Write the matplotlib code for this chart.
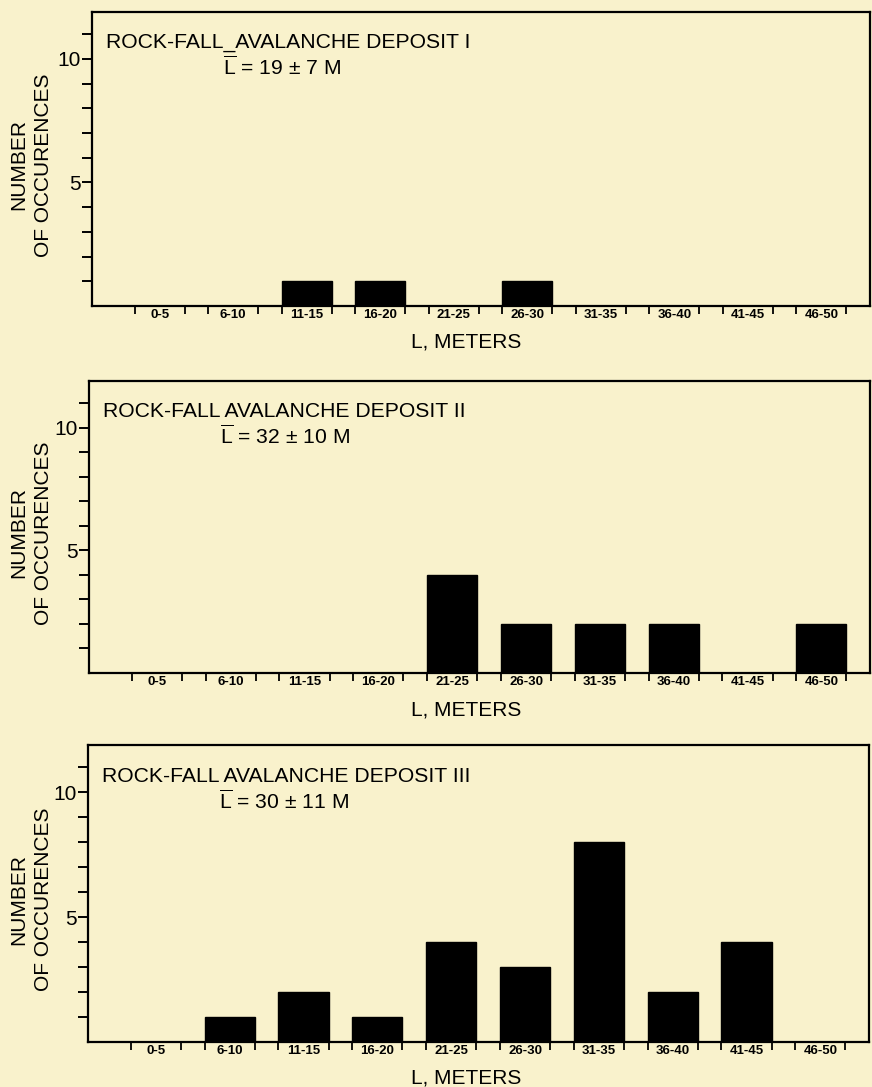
import matplotlib
matplotlib.use("Agg")
import matplotlib.pyplot as plt
import numpy as np

plt.rcParams['font.family'] = ['Liberation Sans', 'DejaVu Sans']
plt.rcParams['mathtext.fontset'] = 'custom'
plt.rcParams['mathtext.rm'] = 'Liberation Sans'

bins = ["0-5", "6-10", "11-15", "16-20", "21-25", "26-30", "31-35", "36-40", "41-45", "46-50"]
counts_I = [0, 0, 1, 1, 0, 1, 0, 0, 0, 0]
counts_II = [0, 0, 0, 0, 4, 2, 2, 2, 0, 2]
counts_III = [0, 1, 2, 1, 4, 3, 8, 2, 4, 0]
titles = ["ROCK-FALL_AVALANCHE DEPOSIT I", "ROCK-FALL AVALANCHE DEPOSIT II", "ROCK-FALL AVALANCHE DEPOSIT III"]
means = [r"$\overline{\mathrm{L}}$ = 19 $\pm$ 7 M", r"$\overline{\mathrm{L}}$ = 32 $\pm$ 10 M", r"$\overline{\mathrm{L}}$ = 30 $\pm$ 11 M"]
all_counts = [counts_I, counts_II, counts_III]

bg = "#F9F2CC"
fig = plt.figure(figsize=(8.72, 10.87), dpi=100, facecolor=bg)

W, H = 872.0, 1087.0
boxes = [(92, 12, 870, 306), (89, 381, 870, 673), (88, 745, 869, 1042)]
bar_w = 0.68

for k, (x0, y0, x1, y1) in enumerate(boxes):
    w, h = x1 - x0, y1 - y0
    ax = fig.add_axes([x0 / W, 1 - y1 / H, w / W, h / H])
    ax.set_facecolor(bg)
    x = np.arange(len(bins))
    ax.bar(x, all_counts[k], width=bar_w, color="black", edgecolor="black")
    ax.set_xlim(-0.92, 9.66)
    ax.set_ylim(0, 11.9)
    for s in ax.spines.values():
        s.set_linewidth(1.6)
        s.set_color("black")
    # y ticks
    ax.set_yticks([5, 10])
    ax.set_yticklabels(["5", "10"], fontsize=15)
    ax.set_yticks([1, 2, 3, 4, 6, 7, 8, 9, 11], minor=True)
    ax.tick_params(axis='y', which='both', direction='out', length=7, width=1.4, pad=1)
    # x ticks
    ax.set_xticks(x)
    ax.set_xticklabels(bins, fontsize=9.5, fontweight='bold')
    edges = np.concatenate([x - bar_w / 2, x + bar_w / 2])
    ax.set_xticks(np.sort(edges), minor=True)
    ax.tick_params(axis='x', which='major', length=0, pad=2)
    ax.tick_params(axis='x', which='minor', direction='out', length=6, width=1.3)
    ax.set_xlabel("L, METERS", fontsize=15)
    ax.xaxis.set_label_coords((466 - x0) / w, -27.0 / h)
    ax.xaxis.label.set_va('top')
    ax.set_ylabel("NUMBER\nOF OCCURENCES", fontsize=15, linespacing=1.4)
    ax.yaxis.set_label_coords(-(x0 - 53) / w, 0.48)
    ax.text(0.018, 0.895, titles[k], transform=ax.transAxes, fontsize=15.2, ha='left', va='center')
    ax.text(0.168, 0.812, means[k], transform=ax.transAxes, fontsize=15.2, ha='left', va='center')

fig.savefig("out.png", dpi=100, facecolor=bg)
